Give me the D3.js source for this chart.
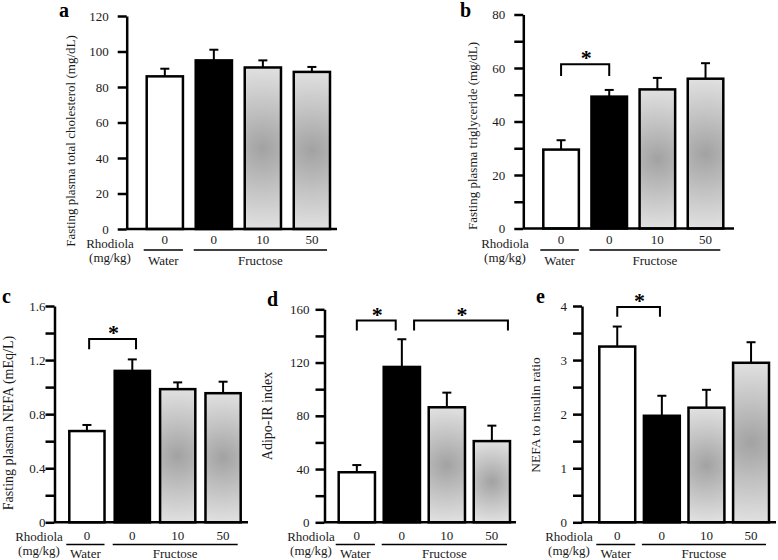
<!DOCTYPE html>
<html><head><meta charset="utf-8">
<script src="https://cdn.jsdelivr.net/npm/d3@7"></script>
<style>body{margin:0;background:#fff} svg{display:block} text{font-family:'Liberation Serif','Times New Roman',Times,serif}</style>
</head><body>
<svg id="chart" width="778" height="560"></svg>
<script>
// ---- data ----
const doseLabels = ["0", "0", "10", "50"];
const groupLabels = ["Water", "Fructose"];
const barKinds = ["white", "black", "grad", "grad"];
const panelLetters = ["a", "b", "c", "d", "e"];
const yTitles = [
  "Fasting plasma total cholesterol (mg/dL)",
  "Fasting plasma triglyceride (mg/dL)",
  "Fasting plasma NEFA (mEq/L)",
  "Adipo-IR index",
  "NEFA to insulin ratio"
];
const cholMean = [86, 95, 91, 88.5];
const cholSem = [4.3, 6, 4, 2.8];
const tgMean = [29.5, 49.3, 52, 56];
const tgSem = [3.5, 2.5, 4.3, 5.8];
const nefaMean = [0.675, 1.12, 0.985, 0.955];
const nefaSem = [0.045, 0.085, 0.05, 0.085];
const adipoMean = [37.6, 116.7, 86.4, 61];
const adipoSem = [5.4, 20.8, 11, 11.6];
const ratioMean = [3.25, 1.97, 2.12, 2.95];
const ratioSem = [0.37, 0.37, 0.33, 0.38];
const yMax = [120, 80, 1.6, 160, 4];
const tickStep = [20, 10, 0.2, 20, 0.5];
const labelStep = [20, 20, 0.4, 40, 1];
// significance brackets: [fromBar, toBar, top value, leg value]
const sigA = [];
const sigB = [[0, 1, 61.4, 57]];
const sigC = [[0, 1, 1.356, 1.28]];
const sigD = [[0, 1, 151.5, 144], [1, 3, 151.5, 144]];
const sigE = [[0, 1, 3.98, 3.8]];

// ---- layout ----
const layout = [
  {axisX:126.7, y0:229, y1:16, xL:145.7, xR:331, pad:0.22, xEnd:337, pad2:9, font:13, titleX:75, titleY:141,
   letterX:59, letterY:17, rowDose:244, rowLine:250, rowGroup:265, rhodX:110, rhodY:248, mgY:261.5,
   bracketF:[[0.5,0.5]]},
  {axisX:523.3, y0:228.5, y1:14.5, xL:542.3, xR:724.3, pad:0.22, xEnd:734, pad2:9, font:13, titleX:477, titleY:136,
   letterX:460, letterY:17, rowDose:244, rowLine:250, rowGroup:265, rhodX:505, rhodY:248, mgY:261.5,
   bracketF:[[0.5,0.5]]},
  {axisX:54.5, y0:522.3, y1:306, xL:68.3, xR:241.7, pad:0.18, xEnd:248, pad2:0, font:14, titleX:13, titleY:423,
   letterX:2, letterY:303, rowDose:540, rowLine:544.5, rowGroup:557.5, rhodX:39, rhodY:541, mgY:555,
   bracketF:[[0.56,0.6]]},
  {axisX:324.5, y0:522.3, y1:309.3, xL:337.7, xR:511, pad:0.15, xEnd:516, pad2:6, font:14, titleX:272, titleY:416,
   letterX:267, letterY:306, rowDose:540, rowLine:544.5, rowGroup:557.5, rhodX:311, rhodY:541, mgY:555,
   bracketF:[[0.5,0.34],[0.82,0.92]]},
  {axisX:582, y0:522.3, y1:306, xL:598.3, xR:770, pad:0.15, xEnd:776, pad2:6, font:13.5, titleX:540, titleY:415,
   letterX:536, letterY:303, rowDose:540, rowLine:544.5, rowGroup:557.5, rhodX:569, rhodY:541, mgY:555,
   bracketF:[[0.5,0.45]]}
];

const means = [cholMean, tgMean, nefaMean, adipoMean, ratioMean];
const sems = [cholSem, tgSem, nefaSem, adipoSem, ratioSem];
const sigs = [sigA, sigB, sigC, sigD, sigE];

const FONT = "'Liberation Serif','Times New Roman',Times,serif";
const svg = d3.select("#chart").attr("font-family", FONT);
const defs = svg.append("defs");
const fmt = d3.format("~g");
let gradId = 0;
const txt = (g) => g.append("text").attr("font-family", FONT).attr("fill", "#1a1a1a");

layout.forEach((L, p) => {
  const g = svg.append("g");
  const y = d3.scaleLinear().domain([0, yMax[p]]).range([L.y0, L.y1]);
  const x = d3.scaleBand().domain(d3.range(4)).range([L.xL, L.xR]).paddingInner(L.pad).paddingOuter(0);
  const bw = x.bandwidth();
  const n = Math.round(yMax[p] / tickStep[p]);
  const ticks = d3.range(n + 1).map(i => +(i * tickStep[p]).toFixed(6));
  const isLab = v => Math.abs(v / labelStep[p] - Math.round(v / labelStep[p])) < 1e-6;

  // bars
  means[p].forEach((m, i) => {
    let fill = barKinds[i] === "white" ? "#fff" : barKinds[i] === "black" ? "#000" : null;
    const bx = x(i), by = y(m), bh = y(0) - y(m);
    if (!fill) {
      const id = "gr" + (gradId++);
      const rg = defs.append("radialGradient").attr("id", id).attr("gradientUnits", "userSpaceOnUse")
        .attr("cx", bx + bw / 2).attr("cy", by + bh / 2).attr("r", bh / 2);
      rg.append("stop").attr("offset", 0).attr("stop-color", "#a2a2a2");
      rg.append("stop").attr("offset", 0.5).attr("stop-color", "#c2c2c2");
      rg.append("stop").attr("offset", 1).attr("stop-color", "#e0e0e0");
      fill = `url(#${id})`;
    }
    const et = y(m + sems[p][i]);
    g.append("line").attr("x1", bx + bw / 2).attr("x2", bx + bw / 2).attr("y1", by).attr("y2", et)
      .attr("stroke", "#000").attr("stroke-width", 2);
    g.append("line").attr("x1", bx + bw / 2 - 4.5).attr("x2", bx + bw / 2 + 4.5).attr("y1", et).attr("y2", et)
      .attr("stroke", "#000").attr("stroke-width", 2);
    g.append("rect").attr("x", bx + 1).attr("y", by).attr("width", bw - 2).attr("height", bh)
      .attr("fill", fill).attr("stroke", "#000").attr("stroke-width", 2.5);
  });

  // y axis
  const ax = g.append("g").attr("transform", `translate(${L.axisX},0)`)
    .call(d3.axisLeft(y).tickValues(ticks).tickSize(9).tickSizeOuter(0).tickPadding(L.pad2)
      .tickFormat(v => isLab(v) ? fmt(v) : ""));
  ax.attr("font-family", FONT);
  ax.select(".domain").attr("stroke-width", 2.5).attr("stroke", "#000");
  ax.selectAll(".tick line").attr("stroke-width", 2.5).attr("stroke", "#000");
  ax.selectAll(".tick text").attr("font-size", 13).attr("font-family", FONT).attr("fill", "#1a1a1a");

  // x axis baseline
  g.append("line").attr("x1", L.axisX).attr("x2", L.xEnd).attr("y1", y(0)).attr("y2", y(0))
    .attr("stroke", "#000").attr("stroke-width", 2.5);

  // y title
  txt(g).attr("transform", `translate(${L.titleX},${L.titleY}) rotate(-90)`)
    .attr("text-anchor", "middle").attr("font-size", L.font).text(yTitles[p]);

  // panel letter
  txt(g).attr("x", L.letterX).attr("y", L.letterY).attr("font-size", 20).attr("font-weight", "bold")
    .attr("fill", "#000").text(panelLetters[p]);

  // dose labels
  doseLabels.forEach((d, i) => {
    txt(g).attr("x", x(i) + bw / 2).attr("y", L.rowDose).attr("text-anchor", "middle")
      .attr("font-size", 13).text(d);
  });
  txt(g).attr("x", L.rhodX).attr("y", L.rhodY).attr("text-anchor", "middle")
    .attr("font-size", 13).text("Rhodiola");
  txt(g).attr("x", L.rhodX).attr("y", L.mgY).attr("text-anchor", "middle")
    .attr("font-size", 13).text("(mg/kg)");

  // group underlines
  const gw = [[x(0) - 2, x(0) + bw - 1], [x(1) - 1, x(3) + bw - 4]];
  gw.forEach((s, k) => {
    g.append("line").attr("x1", s[0]).attr("x2", s[1]).attr("y1", L.rowLine).attr("y2", L.rowLine)
      .attr("stroke", "#000").attr("stroke-width", 1.5);
    txt(g).attr("x", (s[0] + s[1]) / 2).attr("y", L.rowGroup).attr("text-anchor", "middle")
      .attr("font-size", 13).text(groupLabels[k]);
  });

  // significance brackets
  sigs[p].forEach((s, k) => {
    const f = L.bracketF[k];
    const x1 = x(s[0]) + f[0] * bw, x2 = x(s[1]) + f[1] * bw;
    const yt = y(s[2]), yl = y(s[3]);
    g.append("path").attr("d", `M${x1},${yl}V${yt}H${x2}V${yl}`).attr("fill", "none")
      .attr("stroke", "#000").attr("stroke-width", 2);
    txt(g).attr("x", (x1 + x2) / 2 + 1).attr("y", yt + 1).attr("text-anchor", "middle")
      .attr("font-size", 22).attr("font-weight", "bold").attr("fill", "#000").text("*");
  });
});
</script>
</body></html>
